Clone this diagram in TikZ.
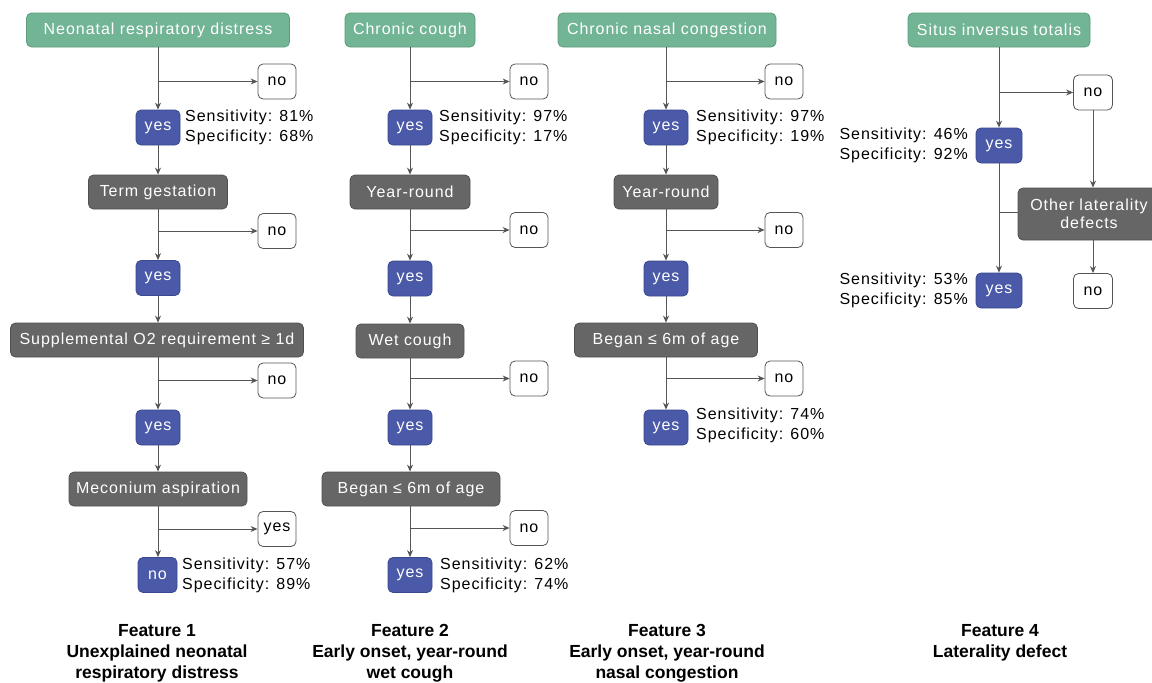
\documentclass[tikz,border=0pt]{standalone}
\usepackage{fontspec}
\setmainfont{Liberation Sans}[LetterSpace=6]
\newfontfamily\featfont{Liberation Sans}
\usetikzlibrary{arrows.meta}
\definecolor{grn}{HTML}{72B595}
\definecolor{grnd}{HTML}{5E9A7D}
\definecolor{gry}{HTML}{666666}
\definecolor{gryd}{HTML}{505050}
\definecolor{blu}{HTML}{4A5AA8}
\definecolor{blud}{HTML}{3A4890}
\definecolor{lin}{HTML}{555555}
\tikzset{
  box/.style={rounded corners=5pt, inner sep=2pt, font=\fontsize{16}{19}\selectfont, line width=0.8pt, align=center},
  grnbox/.style={box, fill=grn, draw=grnd, text=white, minimum height=34},
  grybox/.style={box, fill=gry, draw=gryd, text=white, minimum height=34},
  yesbox/.style={box, fill=blu, draw=blud, text=white, minimum width=44, minimum height=35},
  nobox/.style={box, fill=white, draw=lin, text=black, minimum width=38, minimum height=35},
  stat/.style={font=\fontsize{16}{20}\selectfont, align=left, inner sep=0pt},
  feat/.style={font=\featfont\bfseries\fontsize{17.5}{21}\selectfont, align=center, inner sep=0pt},
  conn/.style={draw=lin, line width=1pt},
  arr/.style={conn, -{Stealth[length=7pt,width=6pt]}}
}
\begin{document}
\begin{tikzpicture}[x=1pt,y=-1pt]
\clip (0,0) rectangle (1152,683);
\useasboundingbox (0,0) rectangle (1152,683);
% ---------- Column 1
\node[grnbox, minimum width=263] (g1) at (158,30) {Neonatal respiratory distress};
\node[nobox] (n1a) at (277,81.5) {no};
\node[yesbox] (y1a) at (158,127.5) {yes};
\node[stat, anchor=west] (s1a) at (185,127.5) {Sensitivity: 81\%\\Specificity: 68\%};
\node[grybox, minimum width=139] (b1) at (158,192) {Term gestation};
\node[nobox] (n1b) at (277,231) {no};
\node[yesbox] (y1b) at (158,278) {yes};
\node[grybox, minimum width=293] (b2) at (157,340) {Supplemental O2 requirement ≥ 1d};
\node[nobox] (n1c) at (277,380.5) {no};
\node[yesbox] (y1c) at (158,427.5) {yes};
\node[grybox, minimum width=178] (b3) at (158,489) {Meconium aspiration};
\node[nobox] (n1d) at (277,529) {yes};
\node[yesbox, minimum width=39] (y1d) at (157.5,575) {no};
\node[stat, anchor=west] (s1d) at (182,575) {Sensitivity: 57\%\\Specificity: 89\%};
\coordinate (c1a) at (158,81.5);
\coordinate (c1b) at (158,231);
\coordinate (c1c) at (158,380.5);
\coordinate (c1d) at (158,529);
\draw[arr] (g1) -- (y1a);
\draw[arr] (c1a) -- (n1a);
\draw[arr] (y1a) -- (b1);
\draw[arr] (b1) -- (y1b);
\draw[arr] (c1b) -- (n1b);
\draw[arr] (y1b) -- (b2.north -| y1b);
\draw[arr] (b2.south -| y1c) -- (y1c);
\draw[arr] (c1c) -- (n1c);
\draw[arr] (y1c) -- (b3);
\draw[arr] (b3.south -| c1d) -- (c1d |- y1d.north);
\draw[arr] (c1d) -- (n1d);
% ---------- Column 2
\node[grnbox, minimum width=130] (g2) at (410,30) {Chronic cough};
\node[nobox] (n2a) at (529,81.5) {no};
\node[yesbox] (y2a) at (410,127.5) {yes};
\node[stat, anchor=west] (s2a) at (439,127.5) {Sensitivity: 97\%\\Specificity: 17\%};
\node[grybox, minimum width=120] (b4) at (410,192) {Year-round};
\node[nobox] (n2b) at (529,230) {no};
\node[yesbox] (y2b) at (410,278.5) {yes};
\node[grybox, minimum width=108] (b5) at (410,341) {Wet cough};
\node[nobox] (n2c) at (529,378.5) {no};
\node[yesbox] (y2c) at (410,427.5) {yes};
\node[grybox, minimum width=178] (b6) at (411,489) {Began ≤ 6m of age};
\node[nobox] (n2d) at (529,528) {no};
\node[yesbox] (y2d) at (410,575) {yes};
\node[stat, anchor=west] (s2d) at (440,575) {Sensitivity: 62\%\\Specificity: 74\%};
\coordinate (c2a) at (410,81.5);
\coordinate (c2b) at (410,230);
\coordinate (c2c) at (410,378.5);
\coordinate (c2d) at (410,528);
\draw[arr] (g2) -- (y2a);
\draw[arr] (c2a) -- (n2a);
\draw[arr] (y2a) -- (b4);
\draw[arr] (b4) -- (y2b);
\draw[arr] (c2b) -- (n2b);
\draw[arr] (y2b) -- (b5);
\draw[arr] (b5) -- (y2c);
\draw[arr] (c2c) -- (n2c);
\draw[arr] (y2c) -- (b6.north -| y2c);
\draw[arr] (b6.south -| y2d) -- (y2d);
\draw[arr] (c2d) -- (n2d);
% ---------- Column 3
\node[grnbox, minimum width=218] (g3) at (667,30) {Chronic nasal congestion};
\node[nobox] (n3a) at (784,81.5) {no};
\node[yesbox] (y3a) at (666,127.5) {yes};
\node[stat, anchor=west] (s3a) at (696,127.5) {Sensitivity: 97\%\\Specificity: 19\%};
\node[grybox, minimum width=104] (b7) at (666,192) {Year-round};
\node[nobox] (n3b) at (784,230) {no};
\node[yesbox] (y3b) at (666,278.5) {yes};
\node[grybox, minimum width=183] (b8) at (666,340) {Began ≤ 6m of age};
\node[nobox] (n3c) at (784,378.5) {no};
\node[yesbox] (y3c) at (666,427.5) {yes};
\node[stat, anchor=west] (s3c) at (696,425.5) {Sensitivity: 74\%\\Specificity: 60\%};
\coordinate (c3a) at (666,81.5);
\coordinate (c3b) at (666,230);
\coordinate (c3c) at (666,378.5);
\draw[arr] (g3.south -| y3a) -- (y3a);
\draw[arr] (c3a) -- (n3a);
\draw[arr] (y3a) -- (b7);
\draw[arr] (b7) -- (y3b);
\draw[arr] (c3b) -- (n3b);
\draw[arr] (y3b) -- (b8);
\draw[arr] (b8) -- (y3c);
\draw[arr] (c3c) -- (n3c);
% ---------- Column 4
\node[grnbox, minimum width=182] (g4) at (999,30) {Situs inversus totalis};
\node[nobox, minimum width=39] (n4a) at (1093,92.5) {no};
\node[yesbox, minimum width=46] (y4a) at (999,145.5) {yes};
\node[stat, anchor=east] (s4a) at (968,145.5) {Sensitivity: 46\%\\Specificity: 92\%};
\node[grybox, minimum width=142, minimum height=52, text width=136] (b9) at (1089,214) {Other laterality\\[-1pt]defects};
\node[yesbox, minimum width=46] (y4b) at (999,290.5) {yes};
\node[stat, anchor=east] (s4b) at (968,290) {Sensitivity: 53\%\\Specificity: 85\%};
\node[nobox, minimum width=39] (n4b) at (1093,291) {no};
\coordinate (c4a) at (999,92.5);
\coordinate (c4b) at (999,212);
\draw[arr] (g4) -- (y4a);
\draw[arr] (c4a) -- (n4a);
\draw[arr] (n4a.south) -- (n4a.south |- b9.north);
\draw[arr] (y4a) -- (y4b);
\draw[conn] (b9.west |- c4b) -- (c4b);
\draw[arr] (n4b.north |- b9.south) -- (n4b);
% ---------- Feature labels
\node[feat] (f1) at (157,653) {Feature 1\\Unexplained neonatal\\respiratory distress};
\node[feat] (f2) at (410,653) {Feature 2\\Early onset, year-round\\wet cough};
\node[feat] (f3) at (667,653) {Feature 3\\Early onset, year-round\\nasal congestion};
\node[feat] (f4) at (1000,642.5) {Feature 4\\Laterality defect};
\end{tikzpicture}
\end{document}
